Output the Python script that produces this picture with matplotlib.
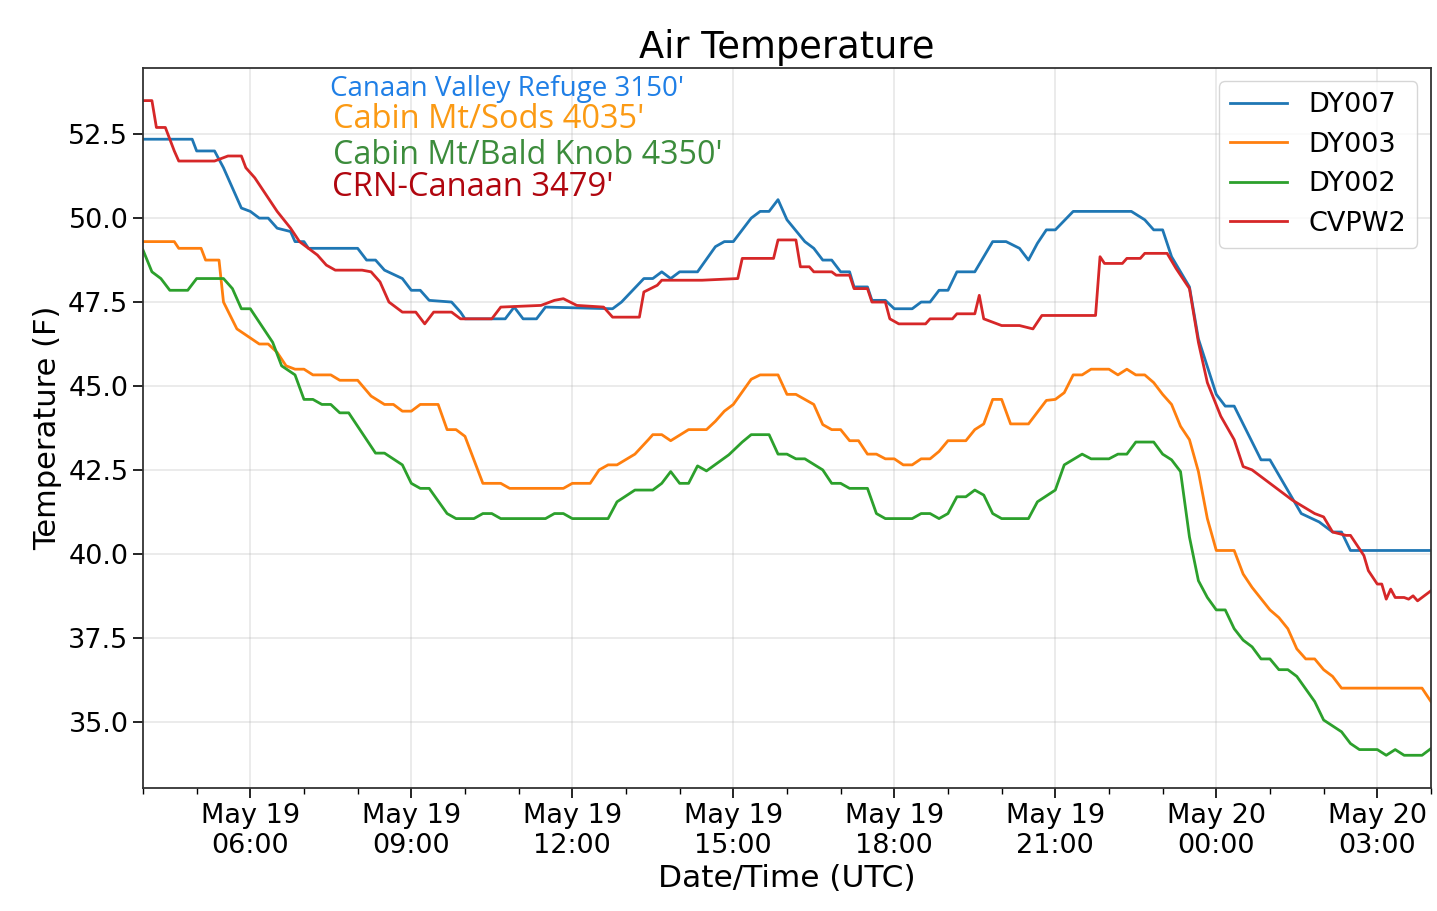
import pandas as pd
import matplotlib
matplotlib.use('Agg')
import matplotlib.pyplot as plt
import matplotlib.dates as mdates

# minutes after 2019-05-19 04:00 UTC, temperature (F)
dy007_min = [0, 55, 60, 80, 90, 100, 110, 120, 130, 140, 150, 165, 170, 180, 185, 240, 250, 260, 270,
             290, 300, 310, 320, 345, 355, 360, 405, 415, 425, 440, 450, 525, 535, 560, 570, 580, 590,
             600, 620, 640, 650, 660, 680, 690, 700, 710, 720, 740, 750, 760, 770, 780, 790, 795, 810,
             815, 830, 840, 860, 870, 880, 890, 900, 910, 930, 950, 965, 980, 990, 1000, 1010, 1020,
             1040, 1105, 1120, 1130, 1140, 1150, 1170, 1180, 1200, 1210, 1220, 1250, 1260, 1295, 1315,
             1330, 1340, 1350, 1440]
dy007_temp = [52.35, 52.35, 52.0, 52.0, 51.5, 50.9, 50.3, 50.2, 50.0, 50.0, 49.7, 49.6, 49.3, 49.3, 49.1,
              49.1, 48.75, 48.75, 48.45, 48.2, 47.85, 47.85, 47.55, 47.5, 47.2, 47.0, 47.0, 47.35, 47.0,
              47.0, 47.35, 47.3, 47.5, 48.2, 48.2, 48.4, 48.2, 48.4, 48.4, 49.15, 49.3, 49.3, 50.0, 50.2,
              50.2, 50.55, 49.95, 49.3, 49.1, 48.75, 48.75, 48.4, 48.4, 47.95, 47.95, 47.55, 47.55, 47.3,
              47.3, 47.5, 47.5, 47.85, 47.85, 48.4, 48.4, 49.3, 49.3, 49.1, 48.75, 49.25, 49.65, 49.65,
              50.2, 50.2, 49.95, 49.65, 49.65, 48.85, 47.95, 46.4, 44.75, 44.4, 44.4, 42.8, 42.8, 41.2,
              40.95, 40.65, 40.65, 40.1, 40.1]

dy003_min = [0, 35, 40, 65, 70, 85, 90, 105, 130, 140, 150, 160, 170, 180, 190, 210, 220, 240, 255, 270,
             280, 290, 300, 310, 330, 340, 350, 360, 380, 400, 410, 470, 480, 500, 510, 520, 530, 550,
             565, 570, 580, 590, 610, 630, 640, 650, 660, 680, 690, 710, 720, 730, 750, 760, 770, 780,
             790, 800, 810, 820, 830, 840, 850, 860, 870, 880, 890, 900, 920, 930, 940, 950, 960, 970,
             990, 1010, 1020, 1030, 1040, 1050, 1060, 1080, 1090, 1100, 1110, 1120, 1130, 1140, 1150,
             1160, 1170, 1180, 1190, 1200, 1220, 1230, 1240, 1260, 1270, 1280, 1290, 1300, 1310, 1320,
             1330, 1340, 1430, 1440]
dy003_temp = [49.3, 49.3, 49.1, 49.1, 48.75, 48.75, 47.5, 46.7, 46.25, 46.25, 46.0, 45.6, 45.5, 45.5,
              45.33, 45.33, 45.17, 45.17, 44.7, 44.45, 44.45, 44.25, 44.25, 44.45, 44.45, 43.7, 43.7,
              43.5, 42.1, 42.1, 41.95, 41.95, 42.1, 42.1, 42.5, 42.65, 42.65, 42.97, 43.4, 43.55, 43.55,
              43.37, 43.7, 43.7, 43.95, 44.25, 44.45, 45.2, 45.33, 45.33, 44.75, 44.75, 44.45, 43.85,
              43.7, 43.7, 43.37, 43.37, 42.97, 42.97, 42.83, 42.83, 42.65, 42.65, 42.83, 42.83, 43.05,
              43.37, 43.37, 43.7, 43.87, 44.6, 44.6, 43.87, 43.87, 44.57, 44.6, 44.8, 45.33, 45.33,
              45.5, 45.5, 45.33, 45.5, 45.33, 45.33, 45.1, 44.75, 44.45, 43.8, 43.4, 42.45, 41.05, 40.1,
              40.1, 39.4, 39.0, 38.33, 38.1, 37.77, 37.17, 36.87, 36.87, 36.55, 36.35, 36.0, 36.0, 35.6]

dy002_min = [0, 10, 20, 30, 50, 60, 90, 100, 110, 120, 135, 145, 155, 170, 180, 190, 200, 210, 220, 230,
             245, 260, 270, 290, 300, 310, 320, 340, 350, 370, 380, 390, 400, 450, 460, 470, 480, 520,
             530, 550, 570, 580, 590, 600, 610, 620, 630, 655, 670, 680, 700, 710, 720, 730, 740, 760,
             770, 780, 790, 810, 820, 830, 860, 870, 880, 890, 900, 910, 920, 930, 940, 950, 960, 990,
             1000, 1020, 1030, 1050, 1060, 1080, 1090, 1100, 1110, 1130, 1140, 1150, 1160, 1170, 1180,
             1190, 1200, 1210, 1220, 1230, 1240, 1250, 1260, 1270, 1280, 1290, 1310, 1320, 1340, 1350,
             1360, 1380, 1390, 1400, 1410, 1430, 1440]
dy002_temp = [49.05, 48.4, 48.2, 47.85, 47.85, 48.2, 48.2, 47.9, 47.3, 47.3, 46.7, 46.3, 45.6, 45.33,
              44.6, 44.6, 44.45, 44.45, 44.2, 44.2, 43.6, 43.0, 43.0, 42.65, 42.1, 41.95, 41.95, 41.2,
              41.05, 41.05, 41.2, 41.2, 41.05, 41.05, 41.2, 41.2, 41.05, 41.05, 41.55, 41.9, 41.9, 42.1,
              42.45, 42.1, 42.1, 42.62, 42.47, 42.95, 43.33, 43.55, 43.55, 42.97, 42.97, 42.83, 42.83,
              42.5, 42.1, 42.1, 41.95, 41.95, 41.2, 41.05, 41.05, 41.2, 41.2, 41.05, 41.2, 41.7, 41.7,
              41.9, 41.75, 41.2, 41.05, 41.05, 41.55, 41.9, 42.65, 42.97, 42.83, 42.83, 42.97, 42.97,
              43.33, 43.33, 42.97, 42.8, 42.45, 40.5, 39.2, 38.7, 38.33, 38.33, 37.77, 37.43, 37.23,
              36.87, 36.87, 36.55, 36.55, 36.35, 35.6, 35.05, 34.7, 34.35, 34.17, 34.17, 34.0, 34.17,
              34.0, 34.0, 34.2]

cvpw2_min = [0, 10, 15, 25, 35, 40, 80, 95, 110, 115, 125, 135, 150, 165, 175, 195, 205, 215, 245, 255,
             265, 275, 290, 305, 315, 325, 345, 355, 390, 400, 445, 460, 470, 485, 515, 525, 555, 560,
             575, 580, 625, 665, 670, 705, 710, 730, 735, 745, 750, 770, 775, 790, 795, 810, 815, 830,
             835, 845, 875, 880, 905, 910, 930, 935, 940, 960, 980, 995, 1005, 1065, 1070, 1075, 1095,
             1100, 1115, 1120, 1145, 1155, 1170, 1180, 1190, 1205, 1220, 1230, 1240, 1255, 1270, 1285,
             1310, 1320, 1330, 1345, 1350, 1365, 1370, 1380, 1385, 1390, 1395, 1400, 1410, 1415, 1420,
             1425, 1435, 1440]
cvpw2_temp = [53.5, 53.5, 52.7, 52.7, 52.0, 51.7, 51.7, 51.85, 51.85, 51.5, 51.2, 50.8, 50.2, 49.7, 49.3,
              48.9, 48.6, 48.45, 48.45, 48.4, 48.1, 47.5, 47.2, 47.2, 46.85, 47.2, 47.2, 47.0, 47.0,
              47.35, 47.4, 47.55, 47.6, 47.4, 47.35, 47.05, 47.05, 47.8, 48.0, 48.15, 48.15, 48.2, 48.8,
              48.8, 49.35, 49.35, 48.55, 48.55, 48.4, 48.4, 48.3, 48.3, 47.9, 47.9, 47.5, 47.5, 47.0,
              46.85, 46.85, 47.0, 47.0, 47.15, 47.15, 47.7, 47.0, 46.8, 46.8, 46.7, 47.1, 47.1, 48.85,
              48.65, 48.65, 48.8, 48.8, 48.95, 48.95, 48.5, 47.9, 46.3, 45.1, 44.1, 43.4, 42.6, 42.5,
              42.2, 41.9, 41.6, 41.2, 41.1, 40.65, 40.55, 40.55, 39.95, 39.5, 39.1, 39.1, 38.65, 38.95,
              38.7, 38.7, 38.65, 38.75, 38.6, 38.8, 38.9]

series = ['DY007', 'DY003', 'DY002', 'CVPW2']
site_labels = ["Canaan Valley Refuge 3150'", "Cabin Mt/Sods 4035'",
               "Cabin Mt/Bald Knob 4350'", "CRN-Canaan 3479'"]

start = pd.Timestamp('2019-05-19 04:00')
end = pd.Timestamp('2019-05-20 04:00')


def to_time(mins):
    return start + pd.to_timedelta(mins, unit='m')


fig = plt.figure(figsize=(14.37, 9.11), dpi=100)
ax = fig.add_axes([0.0995, 0.135, 0.8963, 0.7905])

ax.plot(to_time(dy007_min), dy007_temp, color='tab:blue', lw=2, label=series[0])
ax.plot(to_time(dy003_min), dy003_temp, color='tab:orange', lw=2, label=series[1])
ax.plot(to_time(dy002_min), dy002_temp, color='tab:green', lw=2, label=series[2])
ax.plot(to_time(cvpw2_min), cvpw2_temp, color='tab:red', lw=2, label=series[3])

ax.set_xlim(start, end)
ax.set_yticks([35.0, 37.5, 40.0, 42.5, 45.0, 47.5, 50.0, 52.5])
ax.xaxis.set_major_locator(mdates.HourLocator(byhour=range(0, 24, 3)))
ax.xaxis.set_minor_locator(mdates.HourLocator())
ax.xaxis.set_major_formatter(mdates.DateFormatter('%b %d\n%H:%M'))

ax.tick_params(labelsize=19.5, length=7, width=1.2)
ax.tick_params(which='minor', length=4, width=1)
ax.grid(True, color='#b0b0b0', alpha=0.3, lw=1.2)
for s in ax.spines.values():
    s.set_linewidth(1.3)
    s.set_color('#333333')

ax.set_title('Air Temperature', fontsize=26.5, pad=7)
ax.set_xlabel('Date/Time (UTC)', fontsize=22.5)
ax.set_ylabel('Temperature (F)', fontsize=22)
ax.legend(loc='upper right', fontsize=19.5, handlelength=2.1, handletextpad=0.8)

# station names, written in the top left of the plot
text_colors = ['#1f7fe6', '#fb9a14', '#3c8c3c', '#b0060f']
text_y = [89, 120, 156, 187]
text_x = [330, 333, 333, 332]
text_size = [20, 23.5, 23.2, 23.6]
for lab, c, yp, xp, fs in zip(site_labels, text_colors, text_y, text_x, text_size):
    fig.text(xp / 1437, 1 - yp / 911, lab, color=c, fontsize=fs, family='Open Sans',
             ha='left', va='center')

fig.savefig('out.png', dpi=100)
